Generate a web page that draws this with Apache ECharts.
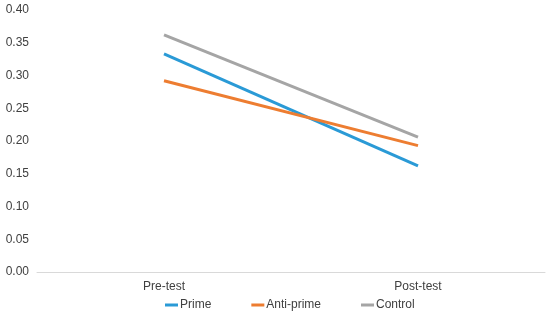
<!DOCTYPE html>
<html>
<head>
<meta charset="utf-8">
<script src="https://cdn.jsdelivr.net/npm/echarts@6/dist/echarts.min.js"></script>
<style>
html, body { margin: 0; padding: 0; background: #fff; }
#chart { width: 550px; height: 313px; }
</style>
</head>
<body>
<div id="chart"></div>
<script>
// 类别与数据
var categories = ['Pre-test', 'Post-test'];
var primeData = [0.333, 0.162];
var antiPrimeData = [0.292, 0.193];
var controlData = [0.362, 0.206];

var chart = echarts.init(document.getElementById('chart'));

function lineSeries(name, data, color) {
    return {
        name: name,
        type: 'line',
        data: data,
        symbol: 'none',
        lineStyle: { width: 3, color: color },
        itemStyle: { color: color }
    };
}

var option = {
    animation: false,
    grid: { left: 37, right: 5, top: 10, bottom: 41 },
    legend: {
        bottom: -3,
        left: 160,
        itemGap: 40,
        itemWidth: 13,
        itemHeight: 3,
        icon: 'rect',
        textStyle: { color: '#404040', fontSize: 12, fontFamily: 'Liberation Sans, Arial', padding: [0, 0, 0, -3] },
        data: ['Prime', 'Anti-prime', 'Control']
    },
    xAxis: {
        type: 'category',
        data: categories,
        axisLine: { lineStyle: { color: '#d9d9d9', width: 1 } },
        axisTick: { show: false },
        axisLabel: { color: '#404040', fontSize: 12, fontFamily: 'Liberation Sans, Arial', margin: 9 }
    },
    yAxis: {
        type: 'value',
        min: 0,
        max: 0.4,
        interval: 0.05,
        axisLine: { show: false },
        axisTick: { show: false },
        splitLine: { show: false },
        axisLabel: {
            color: '#404040',
            fontSize: 12,
            fontFamily: 'Liberation Sans, Arial',
            margin: 8,
            formatter: function (v) { return v.toFixed(2); }
        }
    },
    series: [
        lineSeries('Prime', primeData, '#2a9ad6'),
        lineSeries('Anti-prime', antiPrimeData, '#ed7d31'),
        lineSeries('Control', controlData, '#a5a5a5')
    ]
};

chart.setOption(option);
</script>
</body>
</html>
